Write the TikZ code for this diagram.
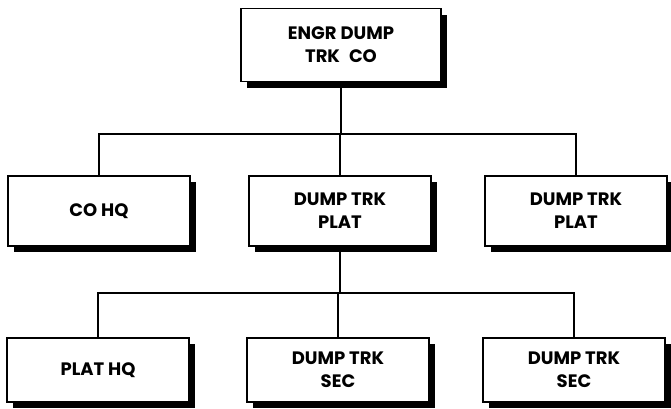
\documentclass[tikz,border=0pt]{standalone}
\usepackage{fontspec}
\setsansfont{Poppins}
\usetikzlibrary{shadows}
\tikzset{
  unit/.style={draw,line width=1.7pt,fill=white,align=center,inner sep=0pt,
    minimum width=182pt,minimum height=70pt,
    font=\sffamily\bfseries\fontsize{18}{23}\selectfont,
    drop shadow={shadow xshift=6pt,shadow yshift=-6pt,fill=black,opacity=1}},
  link/.style={line width=1.7pt}
}
\begin{document}
\begin{tikzpicture}[x=1pt,y=-1pt]
  \useasboundingbox (0,0) rectangle (671,408);
  % company
  \node[unit,minimum width=200pt,minimum height=73pt] (co) at (341,45) {ENGR DUMP\\TRK\enspace CO};
  % platoons
  \node[unit] (cohq) at (99,211) {CO HQ};
  \node[unit] (platA) at (340,211) {DUMP TRK\\PLAT};
  \node[unit] (platB) at (576,211) {DUMP TRK\\PLAT};
  % sections
  \node[unit,minimum height=64pt] (plathq) at (98,370) {PLAT HQ};
  \node[unit,minimum height=64pt] (secA) at (338,370) {DUMP TRK\\SEC};
  \node[unit,minimum height=64pt] (secB) at (574,370) {DUMP TRK\\SEC};
  % connectors
  \coordinate (busA) at (340,134);
  \coordinate (busB) at (339,293);
  \draw[link] (co.south) |- (busA);
  \draw[link] (cohq.north) |- (busA) -| (platB.north);
  \draw[link] (busA) -| (platA.north);
  \draw[link] (platA.south) |- (busB);
  \draw[link] (plathq.north) |- (busB) -| (secB.north);
  \draw[link] (busB) -| (secA.north);
\end{tikzpicture}
\end{document}
